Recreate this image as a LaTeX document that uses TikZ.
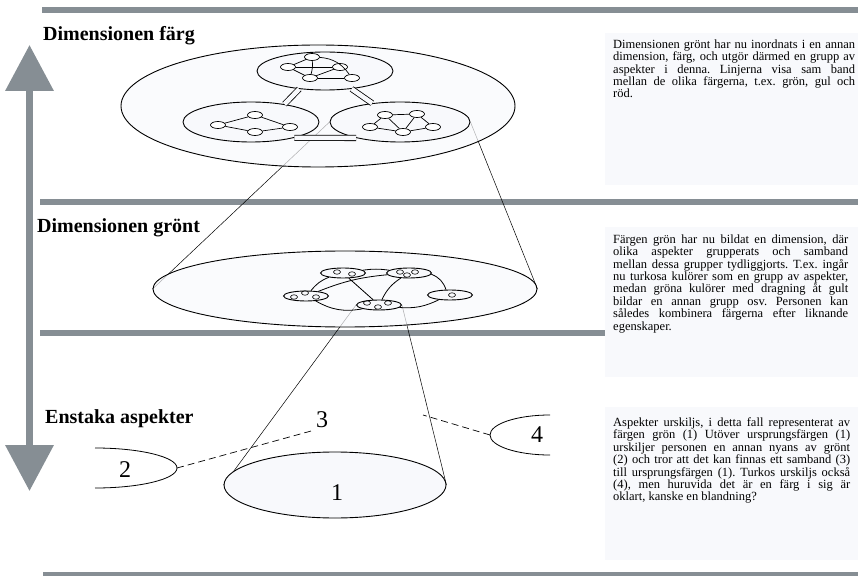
\documentclass[tikz,border=0pt]{standalone}
\usepackage{fontspec}
\setmainfont{Liberation Serif}
\usetikzlibrary{shapes.geometric,arrows.meta,backgrounds}
\definecolor{bargray}{HTML}{868E94}
\definecolor{paper}{HTML}{F8F9FC}
\tikzset{
  grp/.style={ellipse,draw,line width=0.9pt,fill=paper,inner sep=0pt},
  cell/.style={ellipse,draw,line width=0.7pt,fill=white,minimum width=15pt,minimum height=7pt,inner sep=0pt},
  bubble/.style={ellipse,draw,line width=0.6pt,minimum width=7pt,minimum height=4.5pt,inner sep=0pt},
  band/.style={draw,double=paper,double distance=4.5pt,line width=0.8pt},
  cone/.style={line width=0.5pt},
  heading/.style={font=\fontsize{20}{24}\selectfont\bfseries,anchor=base west,inner sep=0pt},
  note/.style={anchor=north west,inner sep=0pt,align=justify,font=\fontsize{12.5}{12.4}\selectfont\frenchspacing},
  num/.style={font=\fontsize{24}{24}\selectfont,inner sep=2pt},
}

\begin{document}
\begin{tikzpicture}[x=1pt,y=1pt]
  \useasboundingbox (0,0) rectangle (858,576);

  % top level: dimensionen farg
  \node[grp,fill opacity=0.7,minimum width=394pt,minimum height=122pt] (farg) at (318,470) {};
  \node[grp,minimum width=136pt,minimum height=38pt] (T) at (325,505) {};
  \node[grp,minimum width=136pt,minimum height=40pt] (L) at (251,454) {};
  \node[grp,minimum width=140pt,minimum height=40pt] (R) at (400,454) {};
  \draw[band] (T.215) -- (L.28);
  \draw[band] (T.-34) -- (R.146);
  \draw[band] (L.-20) -- (R.200);
  \node[cell] (t1) at (312,519) {};
  \node[cell] (t2) at (288,509) {};
  \node[cell] (t3) at (340,509) {};
  \node[cell] (t4) at (310,498) {};
  \node[cell] (t5) at (352,498) {};
  \node[cell] (l1) at (218,451) {};
  \node[cell] (l2) at (255,461) {};
  \node[cell] (l3) at (255,444) {};
  \node[cell] (l4) at (290,449) {};
  \node[cell] (r1) at (385,461) {};
  \node[cell] (r2) at (417,462) {};
  \node[cell] (r3) at (370,449) {};
  \node[cell] (r4) at (403,444) {};
  \node[cell] (r5) at (433,449) {};
  \path[line width=0.7pt]
  (t1)
  edge (t2)
  edge [bend left=25] (t5)
  edge [bend left=10] (t4)
  (t2)
  edge (t3)
  edge (t4)
  (t4)
  edge (t3)
  edge (t5)
  (l1)
  edge (l2)
  edge (l3)
  (l4)
  edge (l2)
  edge (l3)
  (r1)
  edge (r2)
  edge (r3)
  edge (r4)
  (r2)
  edge (r4)
  edge (r5)
  (r4)
  edge (r3)
  edge (r5)
  ;

  % middle level: dimensionen gront
  \node[grp,fill opacity=0.7,minimum width=384pt,minimum height=76pt] (M) at (345,287) {};
  \node[grp,minimum width=45pt,minimum height=10pt] (A) at (343,303) {};
  \node[grp,minimum width=45pt,minimum height=10pt] (B) at (409,303) {};
  \node[grp,minimum width=45pt,minimum height=10pt] (C) at (306,280) {};
  \node[grp,minimum width=45pt,minimum height=10pt] (D) at (379,271) {};
  \node[grp,minimum width=45pt,minimum height=10pt] (E) at (450,281) {};
  \node[bubble] (a1) at (337,304) {};
  \node[bubble] (a2) at (352,302) {};
  \node[bubble] (b1) at (400,304) {};
  \node[bubble] (b2) at (407,301) {};
  \node[bubble] (b3) at (415,304) {};
  \node[bubble] (c1) at (294,279) {};
  \node[bubble] (c2) at (305,283) {};
  \node[bubble] (c3) at (316,279) {};
  \node[bubble] (d1) at (367,273) {};
  \node[bubble] (d2) at (378,269) {};
  \node[bubble] (d3) at (388,273) {};
  \node[bubble] (e1) at (452,281) {};
  \path[line width=0.8pt]
  (A)
  edge [bend right=15] (C)
  edge (D)
  edge [bend left=8] (B)
  (C)
  edge [bend left=8] (B)
  edge [bend right=20] (D)
  (B)
  edge [bend right=15] (D)
  edge [bend left=25] (E)
  (D)
  edge [bend right=15] (E)
  ;

  % bottom level: enstaka aspekter
  \node[grp,minimum width=222pt,minimum height=66pt] (one) at (335,91) {};
  \node[num] (n1) at (337,83) {1};
  \coordinate (twoc) at (95,108);
  \coordinate (twotip) at (177,108);
  \draw[line width=0.8pt] ([yshift=20pt]twoc) arc[start angle=90,end angle=-90,x radius=82pt,y radius=20pt];
  \node[num] (n2) at (125,106) {2};
  \node[num] (n3) at (322,156) {3};
  \coordinate (fourc) at (550,141);
  \coordinate (fourtip) at (490,141);
  \draw[line width=0.8pt] ([yshift=20pt]fourc) arc[start angle=90,end angle=270,x radius=60pt,y radius=20pt];
  \node[num] (n4) at (537,141) {4};
  \coordinate (tick) at (423,161);
  \draw[dash pattern=on 7pt off 4pt,line width=0.7pt] (twotip) -- (n3.south west);
  \draw[dash pattern=on 7pt off 4pt,line width=0.7pt] (fourtip) -- (tick);

  \begin{scope}[on background layer]
    \fill[bargray] (42,563) rectangle (858,569);
    \fill[bargray] (40,371) rectangle (858,377);
    \fill[bargray] (40,240) rectangle (858,246);
    \fill[bargray] (43,0) rectangle (858,4);
    \draw[cone] (R.west) -- (M.west);
    \draw[cone] (R.east) -- (M.east);
    \draw[cone] (D.west) -- (one.west);
    \draw[cone] (D.east) -- (one.east);
  \end{scope}

  % arrow between the levels
  \coordinate (up) at (29.5,531);
  \coordinate (down) at (29.5,85);
  \draw[bargray,line width=7pt,{Triangle[width=47pt,length=46pt]}-{Triangle[width=47pt,length=46pt]}] (down) -- (up);

  % headings
  \node[heading] (hfarg) at (43,535) {Dimensionen färg};
  \node[heading] (hgront) at (37,343) {Dimensionen grönt};
  \node[heading] (henstaka) at (45,153) {Enstaka aspekter};

  % notes
  \fill[paper] (605,391) rectangle (858,543);
  \fill[paper] (605,199) rectangle (858,349);
  \fill[paper] (605,16) rectangle (858,169);
  \node[note,text width=242pt] (nfarg) at (613,536.5) {Dimensionen grönt har nu inordnats i en annan\linebreak
    dimension, färg, och utgör därmed en grupp av\linebreak
    aspekter i denna. Linjerna visa sam band\linebreak
    mellan de olika färgerna, t.ex. grön, gul och\linebreak
    röd.};
  \node[note,text width=235pt] (ngront) at (613,341.5) {Färgen grön har nu bildat en dimension, där\linebreak
    olika aspekter grupperats och samband\linebreak
    mellan dessa grupper tydliggjorts. T.ex. ingår\linebreak
    nu turkosa kulörer som en grupp av aspekter,\linebreak
    medan gröna kulörer med dragning åt gult\linebreak
    bildar en annan grupp osv. Personen kan\linebreak
    således kombinera färgerna efter liknande\linebreak
    egenskaper.};
  \node[note,text width=237pt] (nenstaka) at (613,158.5) {Aspekter urskiljs, i detta fall representerat av\linebreak
    färgen grön (1) Utöver ursprungsfärgen (1)\linebreak
    urskiljer personen en annan nyans av grönt\linebreak
    (2) och tror att det kan finnas ett samband (3)\linebreak
    till ursprungsfärgen (1). Turkos urskiljs också\linebreak
    (4), men huruvida det är en färg i sig är\linebreak
    oklart, kanske en blandning?};
\end{tikzpicture}
\end{document}
